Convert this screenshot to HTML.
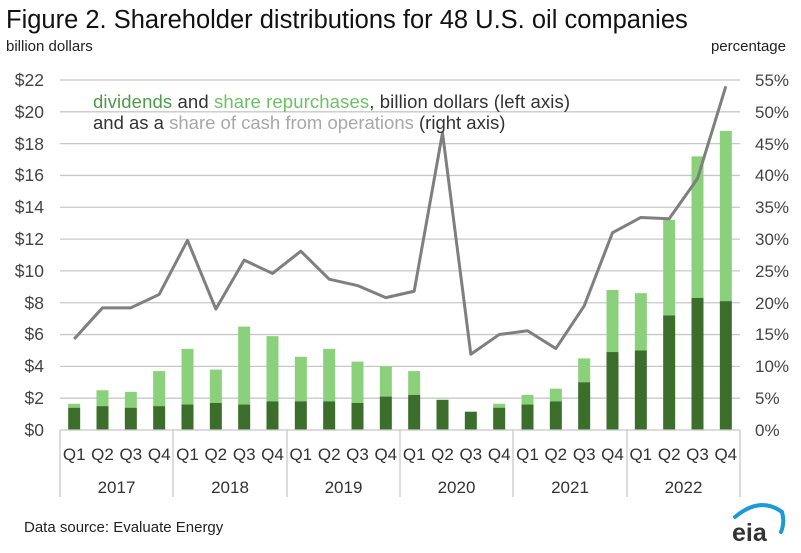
<!DOCTYPE html>
<html><head><meta charset="utf-8"><style>
body{margin:0;background:#fff}
svg{display:block;font-family:"Liberation Sans",Arial,sans-serif}
</style></head><body>
<svg id="s" width="801" height="553" viewBox="0 0 801 553">
<text x="6" y="28" font-size="25.5" fill="#111">Figure 2. Shareholder distributions for 48 U.S. oil companies</text>
<text x="6" y="51" font-size="15" fill="#222">billion dollars</text>
<text x="786" y="51" font-size="15" fill="#222" text-anchor="end">percentage</text>
<g id="grid" stroke="#c8c8c8" stroke-width="1.3"></g>
<g font-size="17.5" fill="#444" text-anchor="end">
<text x="44" y="86">$22</text><text x="44" y="118">$20</text><text x="44" y="150">$18</text><text x="44" y="181">$16</text><text x="44" y="213">$14</text><text x="44" y="245">$12</text><text x="44" y="277">$10</text><text x="44" y="309">$8</text><text x="44" y="340">$6</text><text x="44" y="372">$4</text><text x="44" y="404">$2</text><text x="44" y="436">$0</text>
</g>
<g font-size="17" fill="#444">
<text x="755" y="86">55%</text><text x="755" y="118">50%</text><text x="755" y="150">45%</text><text x="755" y="181">40%</text><text x="755" y="213">35%</text><text x="755" y="245">30%</text><text x="755" y="277">25%</text><text x="755" y="309">20%</text><text x="755" y="340">15%</text><text x="755" y="372">10%</text><text x="755" y="404">5%</text><text x="755" y="436">0%</text>
</g>
<g id="bars"></g>
<polyline id="ln" fill="none" stroke="#7f7f7f" stroke-width="3" stroke-linejoin="round"/>
<g font-size="18.5">
<text x="93" y="108" textLength="477"><tspan fill="#4e9a4a">dividends</tspan><tspan fill="#333"> and </tspan><tspan fill="#6cc164">share repurchases</tspan><tspan fill="#333">, billion dollars (left axis)</tspan></text>
<text x="93" y="129"><tspan fill="#333">and as a </tspan><tspan fill="#a8a8a8">share of cash from operations</tspan><tspan fill="#333"> (right axis)</tspan></text>
</g>
<g stroke="#c8c8c8" stroke-width="1.3">
<line x1="60" y1="430" x2="740" y2="430"/>
<line x1="60" y1="430" x2="60" y2="497"/><line x1="173" y1="430" x2="173" y2="497"/><line x1="287" y1="430" x2="287" y2="497"/><line x1="400" y1="430" x2="400" y2="497"/><line x1="513" y1="430" x2="513" y2="497"/><line x1="627" y1="430" x2="627" y2="497"/><line x1="740" y1="430" x2="740" y2="497"/>
</g>
<g font-size="17" fill="#333" text-anchor="middle">
<text x="74.2" y="460">Q1</text><text x="102.5" y="460">Q2</text><text x="130.8" y="460">Q3</text><text x="159.2" y="460">Q4</text>
<text x="187.5" y="460">Q1</text><text x="215.8" y="460">Q2</text><text x="244.2" y="460">Q3</text><text x="272.5" y="460">Q4</text>
<text x="300.8" y="460">Q1</text><text x="329.2" y="460">Q2</text><text x="357.5" y="460">Q3</text><text x="385.8" y="460">Q4</text>
<text x="414.2" y="460">Q1</text><text x="442.5" y="460">Q2</text><text x="470.8" y="460">Q3</text><text x="499.2" y="460">Q4</text>
<text x="527.5" y="460">Q1</text><text x="555.8" y="460">Q2</text><text x="584.2" y="460">Q3</text><text x="612.5" y="460">Q4</text>
<text x="640.8" y="460">Q1</text><text x="669.2" y="460">Q2</text><text x="697.5" y="460">Q3</text><text x="725.8" y="460">Q4</text>
<text x="116.5" y="493">2017</text><text x="230" y="493">2018</text><text x="343.5" y="493">2019</text><text x="456.5" y="493">2020</text><text x="570" y="493">2021</text><text x="683.5" y="493">2022</text>
</g>
<text x="24" y="532" font-size="15" fill="#222">Data source: Evaluate Energy</text>
<path d="M735 517 Q760 496 782 512 Q785 522 781 532" fill="none" stroke="#1a9ad6" stroke-width="4" stroke-linecap="round"/>
<text x="732" y="541" font-size="25" fill="#333" font-weight="bold">eia</text>
</svg>
<script>
var g=document.getElementById('grid'),h='';
for(var k=1;k<=11;k++){var y=430-k*350/11;h+='<line x1="60" y1="'+y+'" x2="740" y2="'+y+'"/>';}
g.innerHTML=h;
var d=[[1.4,1.65],[1.5,2.5],[1.4,2.4],[1.5,3.7],[1.6,5.1],[1.7,3.8],[1.6,6.5],[1.8,5.9],[1.8,4.6],[1.8,5.1],[1.7,4.3],[2.1,4.0],[2.2,3.7],[1.9,1.9],[1.15,1.15],[1.4,1.65],[1.6,2.2],[1.8,2.6],[3.0,4.5],[4.9,8.8],[5.0,8.6],[7.2,13.2],[8.3,17.2],[8.1,18.8]];
var p=[14.3,19.2,19.2,21.3,29.8,19,26.7,24.6,28.1,23.7,22.7,20.8,21.8,46.7,11.9,15,15.6,12.8,19.5,31,33.4,33.2,39.5,54];
var s=350/22,b='',pts=[];
for(var i=0;i<24;i++){var c=60+680/24*(i+0.5);
var yt=430-d[i][1]*s,yd=430-d[i][0]*s;
b+='<rect x="'+(c-6)+'" y="'+yt+'" width="12" height="'+(yd-yt)+'" fill="#8bd07a"/>';
b+='<rect x="'+(c-6)+'" y="'+yd+'" width="12" height="'+(430-yd)+'" fill="#3b6e2a"/>';
pts.push(c+','+(430-p[i]*350/55));}
document.getElementById('bars').innerHTML=b;
document.getElementById('ln').setAttribute('points',pts.join(' '));
</script>
</body></html>
